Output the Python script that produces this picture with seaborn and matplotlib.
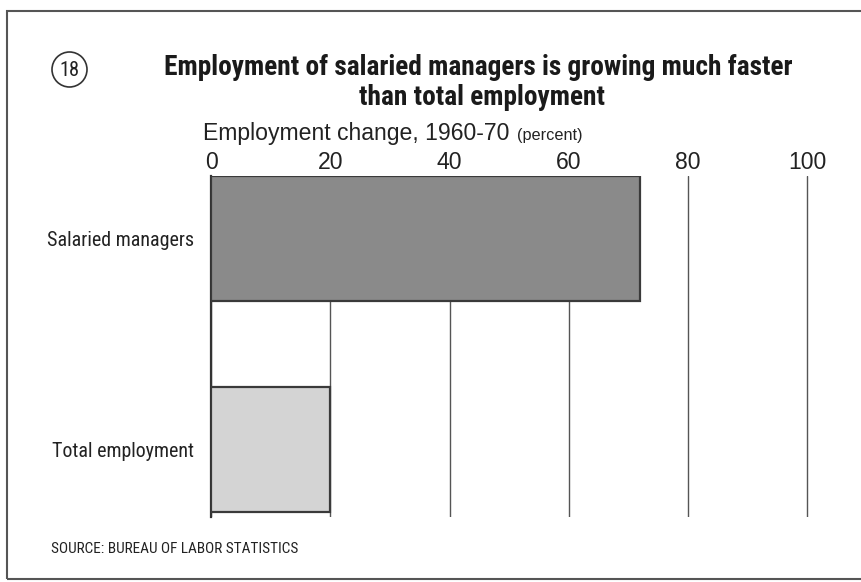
import matplotlib
matplotlib.use("Agg")
import matplotlib.pyplot as plt
from matplotlib import font_manager
from matplotlib.patches import Ellipse, Rectangle
import seaborn as sns
import pandas as pd

# Data
categories = ["Salaried managers", "Total employment"]
change_pct = [72, 20]
tick_values = [0, 20, 40, 60, 80, 100]
bar_colors = ["#8a8a8a", "#d4d4d4"]

sns.set_theme(style="white")

installed = {f.name for f in font_manager.fontManager.ttflist}


def pick(options):
    for name in options:
        if name in installed:
            return name
    return "DejaVu Sans"


narrow = pick(["Roboto Condensed", "Archivo Narrow", "PT Sans Narrow",
               "Sofia Sans Condensed", "Saira SemiCondensed", "Liberation Sans Narrow"])
regular = pick(["Liberation Sans", "Noto Sans"])
plt.rcParams["font.family"] = [regular, "DejaVu Sans"]

W, H = 861, 582
fig = plt.figure(figsize=(W / 100, H / 100), dpi=100)
fig.patch.set_facecolor("white")


def fx(px):
    return px / W


def fy(py):
    return 1 - py / H


def fit_width(txt, target_px):
    """Scale a text's font size so its rendered width is target_px."""
    fig.canvas.draw()
    w = txt.get_window_extent().width
    txt.set_fontsize(txt.get_fontsize() * target_px / w)
    return txt.get_fontsize()


# plot area: x=0 at 211px, 5.9625 px per percent; y from 176px to 517px
px_per_unit = 5.9625
xmax = 102
ax_left, ax_top, ax_bottom = 211, 176, 517
ax = fig.add_axes([fx(ax_left), fy(ax_bottom), xmax * px_per_unit / W,
                   (ax_bottom - ax_top) / H])

df = pd.DataFrame({"category": categories, "change": change_pct})
sns.barplot(data=df, x="change", y="category", hue="category", palette=bar_colors,
            orient="h", width=0.592, edgecolor="#3a3a3a", linewidth=1.6,
            legend=False, ax=ax, zorder=3)

ax.set_xlim(0, xmax)
ax.set_ylim(1.32, -0.296)
ax.set_xlabel("")
ax.set_ylabel("")
ax.grid(axis="x", color="#555555", linewidth=1.0, zorder=1)
ax.grid(axis="y", visible=False)
for side in ["top", "right", "bottom"]:
    ax.spines[side].set_visible(False)
ax.spines["left"].set_color("#333333")
ax.spines["left"].set_linewidth(1.6)
ax.set_facecolor("none")

# axis caption with a smaller unit note
cap = fig.text(fx(203), fy(140), "Employment change, 1960-70", ha="left",
               va="baseline", fontsize=16, color="#222222")
cap_size = fit_width(cap, 307)
unit = fig.text(fx(517), fy(140), "(percent)", ha="left", va="baseline",
                fontsize=11.5, color="#222222")
fit_width(unit, 65)

ax.set_xticks(tick_values)
ax.set_xticklabels([str(v) for v in tick_values], fontsize=cap_size, color="#222222",
                   family=[regular, "DejaVu Sans"])
ax.xaxis.tick_top()
ax.tick_params(axis="x", length=0, pad=1.5)
ax.tick_params(axis="y", length=0, pad=12)
ylabels = ax.get_yticklabels()
for lbl in ylabels:
    lbl.set_fontfamily([narrow, "DejaVu Sans"])
    lbl.set_fontsize(13.5)
    lbl.set_color("#222222")
fig.canvas.draw()
ysize = 13.5 * 147 / ylabels[0].get_window_extent().width
for lbl in ylabels:
    lbl.set_fontsize(ysize)

# outer frame
fig.patches.append(Rectangle((fx(7), fy(579)), fx(880) - fx(7), fy(11) - fy(579),
                             transform=fig.transFigure, fill=False,
                             edgecolor="#555555", linewidth=1.5))

# chart number badge
fig.patches.append(Ellipse((fx(69.5), fy(69.5)), 35 / W, 35 / H,
                           transform=fig.transFigure, fill=False,
                           edgecolor="#333333", linewidth=1.2))
num = fig.text(fx(69.5), fy(70), "18", ha="center", va="center", fontsize=16,
               family=[narrow, "DejaVu Sans"], color="#222222")
fit_width(num, 20)

# title
title_kw = dict(ha="center", va="baseline", fontsize=19.5, fontweight="bold",
                family=[narrow, "DejaVu Sans"], color="#1a1a1a")
t1 = fig.text(fx(478), fy(75), "Employment of salaried managers is growing much faster",
              **title_kw)
tsize = fit_width(t1, 630)
t2 = fig.text(fx(482), fy(105), "than total employment", **title_kw)
t2.set_fontsize(tsize)

# source note
src = fig.text(fx(51), fy(553), "SOURCE: BUREAU OF LABOR STATISTICS", ha="left",
               va="baseline", fontsize=10, family=[narrow, "DejaVu Sans"],
               color="#222222")
fit_width(src, 248)

fig.savefig("out.png", dpi=100)
